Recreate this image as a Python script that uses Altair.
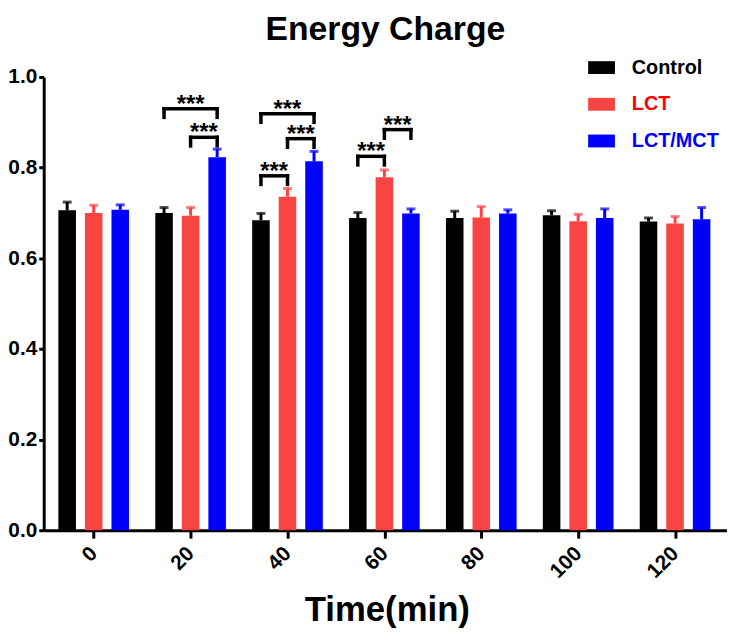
import altair as alt
import pandas as pd

# ---- data ----
times = [0, 20, 40, 60, 80, 100, 120]
series = ["Control", "LCT", "LCT/MCT"]
control = [0.706, 0.700, 0.684, 0.689, 0.689, 0.695, 0.681]
control_err = [0.018, 0.012, 0.015, 0.012, 0.015, 0.010, 0.008]
lct = [0.700, 0.694, 0.736, 0.779, 0.690, 0.682, 0.677]
lct_err = [0.017, 0.018, 0.018, 0.016, 0.024, 0.015, 0.015]
mct = [0.707, 0.823, 0.814, 0.699, 0.699, 0.689, 0.686]
mct_err = [0.011, 0.018, 0.022, 0.010, 0.008, 0.020, 0.026]

# significance brackets
br_time = [20, 20, 40, 40, 40, 60, 60]
br_from = ["Control", "LCT", "Control", "LCT", "Control", "Control", "LCT"]
br_to = ["LCT/MCT", "LCT/MCT", "LCT/MCT", "LCT/MCT", "LCT", "LCT", "LCT/MCT"]
br_level = [0.930, 0.867, 0.919, 0.864, 0.782, 0.825, 0.884]
br_label = ["***"] * 7

bar_colors = ["#000000", "#F94444", "#0000FF"]
FONT = "Liberation Sans"

rows = []
for s, vals, errs in zip(series, [control, lct, mct], [control_err, lct_err, mct_err]):
    for t, v, e in zip(times, vals, errs):
        rows.append({"time": t, "series": s, "value": v, "err": e})
df = pd.DataFrame(rows)

brk = pd.DataFrame({"time": br_time, "from": br_from, "to": br_to,
                    "level": br_level, "label": br_label})

SER = "['Control','LCT','LCT/MCT']"
STEP = 5.48  # minutes between neighbouring bars in a group

xscale = alt.Scale(domain=[-9.3, 129.7], nice=False, zero=False)
yscale = alt.Scale(domain=[0, 1], nice=False)
xaxis = alt.Axis(values=times, title="Time(min)", labelAngle=315, labelAlign="right",
                 labelBaseline="middle", labelFontSize=21, labelFontWeight="bold",
                 labelPadding=12, tickSize=8, grid=False, titleFontSize=35,
                 titleFontWeight="bold", titleX=346, titleY=91, titleBaseline="alphabetic",
                 titleAlign="center")
yaxis = alt.Axis(values=[0, 0.2, 0.4, 0.6, 0.8, 1.0], format=".1f", title=None,
                 labelFontSize=21, labelFontWeight="bold", labelPadding=2, tickSize=5,
                 grid=False)

color_legend = alt.Legend(
    title=None, orient="none", legendX=549, legendY=-23, padding=0,
    symbolType="M-1,-0.48L1,-0.48L1,0.48L-1,0.48Z", symbolSize=729,
    symbolStrokeWidth=0, symbolOpacity=1, labelFontSize=20, labelFontWeight="bold",
    labelOffset=17, rowPadding=13,
    labelColor={"expr": "datum.value == 'LCT' ? '#FF0000' : (datum.value == 'LCT/MCT' ? '#0000FF' : '#000000')"},
)
cscale = alt.Scale(domain=series, range=bar_colors)

base = alt.Chart(df).transform_calculate(
    pos=f"datum.time + {STEP} * (indexof({SER}, datum.series) - 1)",
    upper="datum.value + datum.err",
)

bars = base.mark_bar(width=17.7).encode(
    x=alt.X("pos:Q", scale=xscale, axis=xaxis),
    y=alt.Y("value:Q", scale=yscale, axis=yaxis),
    color=alt.Color("series:N", scale=cscale, legend=color_legend, sort=series),
)

err_rule = base.mark_rule(strokeWidth=3).encode(
    x=alt.X("pos:Q", scale=xscale, axis=xaxis),
    y=alt.Y("value:Q", scale=yscale, axis=yaxis),
    y2="upper:Q",
    color=alt.Color("series:N", scale=cscale, legend=None),
)

err_cap = base.mark_tick(orient="horizontal", size=9, thickness=3).encode(
    x=alt.X("pos:Q", scale=xscale, axis=xaxis),
    y=alt.Y("upper:Q", scale=yscale, axis=yaxis),
    color=alt.Color("series:N", scale=cscale, legend=None),
)

bbase = alt.Chart(brk).transform_calculate(
    p_from=f"datum.time + {STEP} * (indexof({SER}, datum['from']) - 1)",
    p_to=f"datum.time + {STEP} * (indexof({SER}, datum['to']) - 1)",
    leg="datum.level - 0.019",
    mid="(datum.p_from + datum.p_to) / 2",
)

br_h = bbase.mark_rule(strokeWidth=3.5, color="black", strokeCap="square").encode(
    x=alt.X("p_from:Q", scale=xscale, axis=xaxis),
    x2="p_to:Q",
    y=alt.Y("level:Q", scale=yscale, axis=yaxis),
)

br_legs = bbase.transform_fold(["p_from", "p_to"], as_=["end", "px"]).mark_rule(
    strokeWidth=3.5, color="black", strokeCap="square").encode(
    x=alt.X("px:Q", scale=xscale, axis=xaxis),
    y=alt.Y("level:Q", scale=yscale, axis=yaxis),
    y2="leg:Q",
)

br_text = bbase.mark_text(fontSize=24, fontWeight="bold", baseline="alphabetic",
                          dy=3, color="black", font=FONT).encode(
    x=alt.X("mid:Q", scale=xscale, axis=xaxis),
    y=alt.Y("level:Q", scale=yscale, axis=yaxis),
    text="label:N",
)

chart = alt.layer(bars, err_rule, err_cap, br_h, br_legs, br_text).properties(
    width=689, height=457,
    autosize=alt.AutoSizeParams(type="none"),
    padding={"left": 36, "top": 67, "right": 0, "bottom": 99},
    title=alt.TitleParams("Energy Charge", fontSize=34, fontWeight="bold", font=FONT,
                          anchor="middle", frame="group", offset=-20,
                          baseline="alphabetic", color="black"),
).configure(font=FONT).configure_axis(
    domainColor="black", domainWidth=3, tickColor="black", tickWidth=3,
    labelColor="black", titleColor="black", labelFont=FONT, titleFont=FONT,
).configure_view(strokeWidth=0)

chart.save("out.html", embed_options={"renderer": "svg", "actions": False})
